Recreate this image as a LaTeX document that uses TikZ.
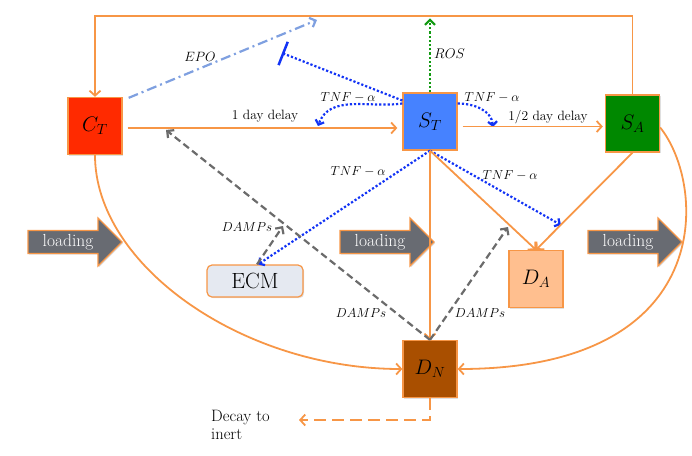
\RequirePackage{fix-cm}
\documentclass[tikz,border=0pt]{standalone}
\usepackage{fontspec}
\usetikzlibrary{arrows.meta,calc,shadows}
\definecolor{orng}{HTML}{F79646}
\definecolor{ctred}{HTML}{FF2A00}
\definecolor{stblue}{HTML}{4682FF}
\definecolor{sagreen}{HTML}{008800}
\definecolor{dalight}{HTML}{FFBF8F}
\definecolor{dnbrown}{HTML}{A94F00}
\definecolor{ecmfill}{HTML}{E5E9F1}
\definecolor{loadgray}{HTML}{686B72}
\definecolor{tnfblue}{HTML}{1233F5}
\definecolor{epoblue}{HTML}{7FA0E0}
\definecolor{dampgray}{HTML}{6B6B6B}
\definecolor{rosgreen}{HTML}{129A12}
\tikzset{
  shad/.style={drop shadow={shadow xshift=1.2pt, shadow yshift=-1.2pt, opacity=0.25}},
  box/.style={draw=orng, line width=1.3pt, minimum width=54pt, minimum height=57pt, inner sep=0pt, font=\fontsize{21}{24}\selectfont, shad},
  oline/.style={draw=orng, line width=1.8pt},
  otip/.style={-{Straight Barb[length=5pt,width=11pt]}},
  tnf/.style={draw=tnfblue, line width=2.2pt, dotted, -{Straight Barb[length=4pt,width=9pt]}},
  damp/.style={draw=dampgray, line width=2.2pt, dash pattern=on 7pt off 4pt, -{Straight Barb[length=5pt,width=10pt]}},
  lbl/.style={font=\fontsize{13}{15}\selectfont, inner sep=1pt},
  mlbl/.style={font=\fontsize{13.5}{15}\selectfont, inner sep=1pt},
  loadarr/.pic={
    \draw[fill=loadgray, draw=orng, line width=1.2pt, shad] (0,-11.5) -- (70,-11.5) -- (70,-24) -- (94,0) -- (70,24) -- (70,11.5) -- (0,11.5) -- cycle;
    \node[text=white, font=\fontsize{17.5}{20}\selectfont] (-t) at (40,0) {loading};
  }
}
\begin{document}
\begin{tikzpicture}[x=1pt,y=-1pt]
\useasboundingbox (0,0) rectangle (692,455);

% boxes
\node[box, fill=ctred] (ct) at (95,126) {$C_T$};
\node[box, fill=stblue] (st) at (430,121.5) {$S_T$};
\node[box, fill=sagreen] (sa) at (632.5,123.5) {$S_A$};
\node[box, fill=dalight] (da) at (536,279) {$D_A$};
\node[box, fill=dnbrown] (dn) at (430,369) {$D_N$};
\node[draw=orng, line width=1.2pt, fill=ecmfill, rounded corners=5pt, minimum width=96pt, minimum height=32pt, font=\fontsize{22}{24}\selectfont, shad] (ecm) at (255,281) {ECM};

% loading arrows
\pic (l1) at (28,242) {loadarr};
\pic (l2) at (340,242) {loadarr};
\pic (l3) at (588,242) {loadarr};

% coordinates
\coordinate (epoend) at (317,20);
\coordinate (inh) at (282,53);
\coordinate (tnfL) at (318,126);
\coordinate (tnfR) at (493,127);
\coordinate (tnfD) at (561,225);
\coordinate (dmpC) at (166,130);
\coordinate (dmpR) at (508,227);
\coordinate (dmpE) at (283,226);
\coordinate (decayend) at (299,420);

% top loop
\draw[oline, otip] (sa.north) -- ++(0,-78) -| (ct.north);

% ROS
\draw[draw=rosgreen, line width=2.2pt, dotted, -{Straight Barb[length=5pt,width=10pt]}] (st.north) -- ++(0,-74);
\node[inner sep=1pt, font=\fontsize{14}{15}\selectfont, anchor=west] (ros) at (433,54) {$ROS$};

% EPO
\draw[draw=epoblue, line width=2.2pt, dash pattern=on 10pt off 4pt on 2pt off 4pt, -{Straight Barb[length=5pt,width=10pt]}] ($(ct.north east)+(6,1)$) -- (epoend);
\node[mlbl] (epo) at (200,57) {$EPO$};

% inhibition
\draw[draw=tnfblue, line width=2.2pt, dotted, -{Bar[width=25pt,line width=2.5pt]}] ([yshift=21pt]st.west) -- (inh);

% TNF curved
\draw[tnf] ([yshift=18pt]st.west) to[out=188,in=70] (tnfL);
\node[lbl] (tnf1) at (348,98) {$TNF-\alpha$};
\draw[tnf] ([yshift=18pt]st.east) to[out=0,in=95] (tnfR);
\node[lbl] (tnf2) at (492,98) {$TNF-\alpha$};

% horizontal delays
\draw[oline, otip] ([xshift=5pt,yshift=-2pt]ct.east) -- ([xshift=-5pt,yshift=-2pt]ct.east -| st.west);
\node[mlbl] (d1) at (265,116) {1 day delay};
\draw[oline, otip] ([xshift=5pt,yshift=-5pt]st.east) -- ([xshift=-2pt,yshift=-5pt]st.east -| sa.west);
\node[mlbl] (d2) at (548,117) {1/2 day delay};

% TNF from bottom
\draw[tnf] (st.south) -- ([xshift=3pt]ecm.north);
\node[lbl] (tnf3) at (358,172) {$TNF-\alpha$};
\draw[tnf] (st.south) -- (tnfD);
\node[lbl] (tnf4) at (510,176) {$TNF-\alpha$};

% orange flows
\draw[oline, otip] (st.south) -- (dn.north);
\draw[oline, otip] (st.south) -- (da.north);
\draw[oline, otip] (sa.south) -- (da.north);
\draw[oline, otip] (ct.south) .. controls +(0,110) and +(-160,0) .. (dn.west);
\draw[oline, otip] ([yshift=-4pt]sa.east) .. controls +(46,57) and +(261,0) .. (dn.east);

% DAMPs
\draw[damp] (dn.north) -- (dmpC);
\draw[damp] (dn.north) -- (dmpR);
\draw[damp] ([xshift=2pt]ecm.north) -- (dmpE);
\node[lbl] (dp1) at (361,313) {$DAMPs$};
\node[lbl] (dp2) at (480,313) {$DAMPs$};
\node[lbl] (dp3) at (247,227) {$DAMPs$};

% decay
\draw[oline, dash pattern=on 12pt off 6pt, otip] (dn.south) |- (decayend);
\node[font=\fontsize{16.5}{18}\selectfont, align=left, anchor=north west, inner sep=0pt] (decay) at (211,410) {Decay to\\inert};
\end{tikzpicture}
\end{document}
